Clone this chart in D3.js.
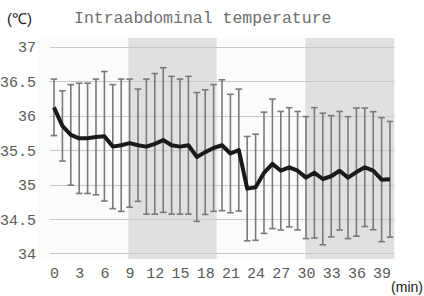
<!DOCTYPE html>
<html>
<head>
<meta charset="utf-8">
<script src="https://cdn.jsdelivr.net/npm/d3@7"></script>
<style>
  html, body { margin: 0; padding: 0; background: #fff; }
  svg { display: block; }
</style>
</head>
<body>
<svg id="chart" width="424" height="296"></svg>
<script>
// ---- data ----
const minutes = d3.range(0, 41);
const meanTemp = [36.12, 35.85, 35.72, 35.67, 35.67, 35.69, 35.70, 35.55, 35.57, 35.60,
                  35.57, 35.55, 35.59, 35.645, 35.57, 35.55, 35.57, 35.40, 35.47, 35.53,
                  35.57, 35.45, 35.50, 34.94, 34.96, 35.17, 35.30, 35.20, 35.25, 35.20,
                  35.10, 35.17, 35.08, 35.12, 35.20, 35.10, 35.18, 35.25, 35.20, 35.07, 35.075];
const sdTemp = [0.41, 0.51, 0.73, 0.80, 0.80, 0.84, 0.94, 0.90, 0.96, 0.93,
                0.815, 0.98, 1.02, 1.05, 1.00, 0.98, 1.00, 0.935, 0.905, 0.92,
                0.95, 0.86, 0.885, 0.757, 0.77, 0.88, 0.94, 0.86, 0.865, 0.86,
                0.885, 0.946, 0.955, 0.88, 0.86, 0.885, 0.93, 0.86, 0.856, 0.90, 0.84];
const xTickLabels = [0, 3, 6, 9, 12, 15, 18, 21, 24, 27, 30, 33, 36, 39];
const yTickLabels = [34, 34.5, 35, 35.5, 36, 36.5, 37];
const shadeStart = [8.85, 29.92];
const shadeEnd = [19.37, 40.5];
const titleText = "Intraabdominal temperature";
const yUnit = "(℃)";
const xUnit = "(min)";

// ---- layout ----
const svg = d3.select("#chart");
const x = d3.scaleLinear().domain([-0.5, 40.5]).range([49.8, 394.2]);
const y = d3.scaleLinear().domain([34, 37]).range([253.4, 46.7]);
const plotTop = 38, plotBottom = 259;

// plot area background
svg.append("rect")
  .attr("x", 38).attr("y", plotTop)
  .attr("width", 394.2 - 38).attr("height", plotBottom - plotTop)
  .attr("fill", "#fbfbfb");

// shaded bands
svg.append("g").selectAll("rect")
  .data(shadeStart.map((s, i) => [s, shadeEnd[i]]))
  .join("rect")
  .attr("x", d => x(d[0]))
  .attr("y", plotTop)
  .attr("width", d => x(d[1]) - x(d[0]))
  .attr("height", plotBottom - plotTop)
  .attr("fill", "#e0e0e0");

// gridlines
svg.append("g").selectAll("line")
  .data(yTickLabels)
  .join("line")
  .attr("x1", x.range()[0]).attr("x2", x.range()[1])
  .attr("y1", d => Math.round(y(d)) + 0.5).attr("y2", d => Math.round(y(d)) + 0.5)
  .attr("stroke", "#c8c8c8").attr("stroke-width", 1.2);

// y axis labels
const yAxis = d3.axisLeft(y).tickValues(yTickLabels).tickSize(0).tickPadding(0)
  .tickFormat(d => String(d));
const gy = svg.append("g").attr("transform", "translate(36,0)").call(yAxis);
gy.select(".domain").remove();
gy.selectAll("text")
  .attr("font-family", "'Liberation Mono', monospace")
  .attr("font-size", 15)
  .attr("fill", "#595959")
  .attr("dy", "0.35em");

// x axis labels
const xAxis = d3.axisBottom(x).tickValues(xTickLabels).tickSize(0).tickPadding(0)
  .tickFormat(d => String(d));
const gx = svg.append("g").attr("transform", "translate(0,267)").call(xAxis);
gx.select(".domain").remove();
gx.selectAll("text")
  .attr("font-family", "'Liberation Mono', monospace")
  .attr("font-size", 15)
  .attr("fill", "#595959")
  .attr("dy", "0.7em");

// error bars
const eb = svg.append("g").attr("stroke", "#7a7a7a").attr("stroke-width", 1.6);
const capW = 3.3;
minutes.forEach((m, i) => {
  const cx = x(m);
  const hi = y(meanTemp[i] + sdTemp[i]);
  const lo = y(meanTemp[i] - sdTemp[i]);
  eb.append("line").attr("x1", cx).attr("x2", cx).attr("y1", hi).attr("y2", lo);
  eb.append("line").attr("x1", cx - capW).attr("x2", cx + capW).attr("y1", hi).attr("y2", hi);
  eb.append("line").attr("x1", cx - capW).attr("x2", cx + capW).attr("y1", lo).attr("y2", lo);
});

// mean line
svg.append("path")
  .datum(minutes)
  .attr("fill", "none")
  .attr("stroke", "#1a1a1a")
  .attr("stroke-width", 4)
  .attr("stroke-linejoin", "round")
  .attr("d", d3.line().x(m => x(m)).y((m, i) => y(meanTemp[i])));

// title
svg.append("text")
  .attr("x", 74).attr("y", 23)
  .attr("font-family", "'Liberation Mono', monospace")
  .attr("font-size", 16.5)
  .attr("fill", "#6e6e6e")
  .text(titleText);

// unit labels
svg.append("text")
  .attr("x", 7).attr("y", 24)
  .attr("font-family", "'Liberation Sans', Arial, sans-serif")
  .attr("font-size", 15)
  .attr("fill", "#1a1a1a")
  .text(yUnit);

svg.append("text")
  .attr("x", 423).attr("y", 292)
  .attr("text-anchor", "end")
  .attr("font-family", "'Liberation Sans', Arial, sans-serif")
  .attr("font-size", 14)
  .attr("fill", "#1a1a1a")
  .text(xUnit);
</script>
</body>
</html>
